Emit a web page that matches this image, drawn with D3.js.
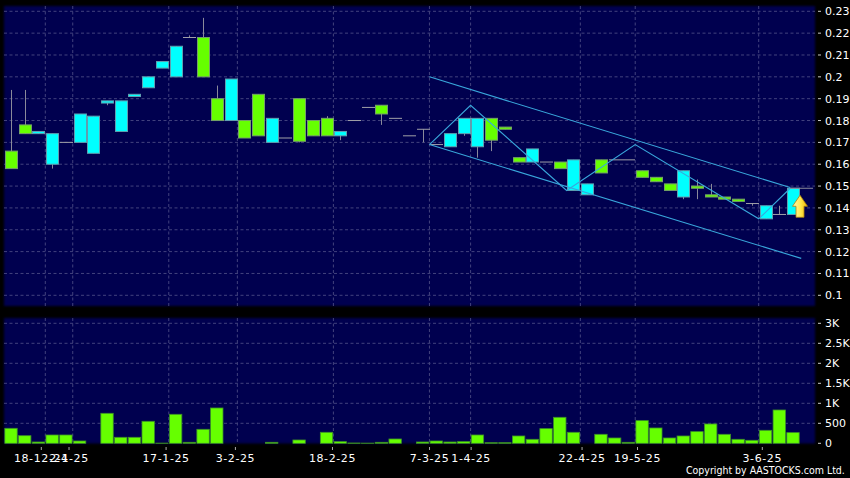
<!DOCTYPE html>
<html><head><meta charset="utf-8">
<script src="https://cdnjs.cloudflare.com/ajax/libs/d3/7.8.5/d3.min.js"></script>
<style>html,body{margin:0;padding:0;background:#000;overflow:hidden}svg{display:block}text{font-family:"DejaVu Sans",sans-serif;fill:#fff}</style>
</head><body><svg id="c" width="850" height="478"></svg>
<script>
const openP = [.158,.174,.175,.174,.170,.183,.182,.189,.189,.192,.200,.207,.214,.218,.200,.180,.199,.172,.173,.181,.172,.1705,.173,.173,.175,.180,.186,.183,.181,.173,.176,.169,.174,.181,.181,.171,.176,.161,.167,.161,.158,.162,.151,.156,.162,.162,.154,.152,.148,.157,.149,.145,.144,.143,.142,.141,.137,.149];
const closeP= [.166,.178,.174,.160,.170,.170,.165,.188,.175,.191,.195,.204,.200,.218,.218,.190,.180,.180,.192,.170,.172,.190,.180,.181,.173,.180,.186,.187,.181,.173,.176,.169,.168,.174,.168,.181,.177,.163,.161,.161,.161,.148,.146,.162,.162,.162,.157,.154,.151,.145,.150,.146,.145,.144,.142,.135,.137,.137];
const highP = [.194,.194,.175,.174,.170,.183,.182,.189,.189,.192,.200,.207,.214,.219,.227,.196,.199,.180,.192,.181,.172,.190,.180,.182,.175,.180,.186,.187,.181,.173,.176,.169,.174,.181,.181,.181,.177,.163,.167,.161,.161,.162,.151,.162,.162,.162,.157,.154,.151,.157,.153,.151,.145,.144,.142,.141,.141,.149];
const lowP  = [.158,.174,.174,.158,.170,.170,.165,.187,.175,.191,.195,.204,.200,.218,.200,.180,.180,.172,.173,.170,.172,.170,.173,.173,.171,.180,.186,.178,.181,.173,.170,.169,.168,.173,.163,.166,.176,.161,.161,.161,.158,.148,.146,.156,.162,.162,.154,.152,.148,.144,.144,.145,.144,.143,.141,.135,.137,.137];
const volume= [375,190,33,208,208,58,0,750,150,150,550,5,725,25,350,883,0,0,0,25,0,83,0,275,42,8,5,25,108,0,33,58,33,42,208,15,15,183,100,367,650,275,0,225,133,25,567,383,133,183,292,483,225,100,75,325,833,267];
const priceTicks = [.23,.22,.21,.2,.19,.18,.17,.16,.15,.14,.13,.12,.11,.1];
const volTicks = [0,500,1000,1500,2000,2500,3000];
const volTickLabels = ["0","500","1K","1.5K","2K","2.5K","3K"];
const gridIdx = [2.5,4.5,11.5,16.5,23.5,30.5,33.5,41.5,45.5,54.5];
const dateLabels = ["18-12-24","2-1-25","17-1-25","3-2-25","18-2-25","7-3-25","1-4-25","22-4-25","19-5-25","3-6-25"];
const channelUpper = [[30.5,.2],[56.8,.1493]];
const channelLower = [[30.5,.169],[57.6,.1169]];
const zigzag = [[30.5,.169],[33.5,.187],[40.5,.148],[45.5,.169],[54.5,.135],[56.8,.149]];

const svg = d3.select("#c");
const x = d3.scaleLinear().domain([0,57]).range([11,793]);
const xTick = d3.scaleLinear().domain([2.5,54.5]).range([41.3,762.3]);
const y = d3.scaleLinear().domain([.1,.23]).range([295.3,11.3]);
const yv = d3.scaleLinear().domain([0,3000]).range([443.3,323.3]);
const bg="#000050", gridC="#42427e", gs="3,2.5";
const L=4,R=815;

const defs=svg.append("defs");
const blur=defs.append("filter").attr("id","soft").attr("x","-5%").attr("y","-5%").attr("width","110%").attr("height","110%");
blur.append("feGaussianBlur").attr("stdDeviation",0.8);
const ag=defs.append("linearGradient").attr("id","arrow").attr("x1",0).attr("x2",1).attr("y1",0).attr("y2",0);
ag.append("stop").attr("offset",0).attr("stop-color","#fff6b0");
ag.append("stop").attr("offset",.55).attr("stop-color","#ffe84a");
ag.append("stop").attr("offset",1).attr("stop-color","#efb400");

svg.append("rect").attr("x",L).attr("y",6).attr("width",R-L).attr("height",300).attr("fill",bg).attr("filter","url(#soft)");
svg.append("rect").attr("x",L).attr("y",318).attr("width",R-L).attr("height",125.5).attr("fill",bg).attr("filter","url(#soft)");

const grid=svg.append("g").attr("stroke",gridC).attr("stroke-dasharray",gs).attr("stroke-width",1);
priceTicks.forEach(t=>grid.append("line").attr("x1",L).attr("x2",R).attr("y1",y(t)).attr("y2",y(t)));
volTicks.slice(1).forEach(t=>grid.append("line").attr("x1",L).attr("x2",R).attr("y1",yv(t)).attr("y2",yv(t)));
gridIdx.forEach(g=>{
 grid.append("line").attr("x1",x(g)).attr("x2",x(g)).attr("y1",6).attr("y2",306);
 grid.append("line").attr("x1",x(g)).attr("x2",x(g)).attr("y1",318).attr("y2",443);
});

// candles
const cg=svg.append("g");
d3.range(openP.length).forEach(i=>{
 const o=openP[i],c=closeP[i],h=highP[i],l=lowP[i],cx=Math.round(x(i))+.5;
 if(h>l) cg.append("line").attr("x1",cx).attr("x2",cx).attr("y1",y(h)).attr("y2",y(l)).attr("stroke","#8a8a9a").attr("stroke-width",1);
 if(o===c){
  cg.append("line").attr("x1",cx-6.5).attr("x2",cx+6.5).attr("y1",y(o)).attr("y2",y(o)).attr("stroke","#a0a0a8").attr("stroke-width",1);
 } else {
  const green=c>o, t=y(Math.max(o,c)), b=y(Math.min(o,c));
  cg.append("rect").attr("x",cx-6).attr("width",12).attr("y",t).attr("height",b-t)
    .attr("fill",green?"#66ff00":"#00ffff").attr("stroke",green?"#74a068":"#5f9fb0").attr("stroke-width",1);
 }
});
// overlays
const line=d3.line().x(d=>x(d[0])).y(d=>y(d[1]));
[channelUpper,channelLower,zigzag].forEach(p=>svg.append("path").attr("d",line(p)).attr("fill","none").attr("stroke","#39a8dc").attr("stroke-width",1.1));
svg.append("line").attr("x1",x(56.8)).attr("x2",813).attr("y1",y(.149)).attr("y2",y(.149)).attr("stroke","#8a8a9a");
// arrow
svg.append("path").attr("transform",`translate(${x(57)+7},${y(.138)})`)
 .attr("d","M0,-17 L7.5,-6 L4,-6 L4,5 L-4,5 L-4,-6 L-7.5,-6 Z").attr("fill","url(#arrow)").attr("stroke","#a97f10").attr("stroke-width",.8);
// volume
svg.append("g").selectAll("rect").data(volume).join("rect")
 .attr("x",(d,i)=>x(i)-6.2).attr("width",12.4).attr("y",d=>yv(d)).attr("height",d=>yv(0)-yv(d))
 .attr("fill","#66ff00").attr("stroke","#3d8f2a").attr("stroke-width",.8).attr("display",d=>d>0?null:"none");

// axes
const axisP=svg.append("g");
priceTicks.forEach(t=>{
 axisP.append("line").attr("x1",818).attr("x2",821).attr("y1",y(t)).attr("y2",y(t)).attr("stroke","#ccc");
 axisP.append("text").attr("x",825).attr("y",y(t)+4).attr("font-size",11).text(t);
});
volTicks.forEach((t,i)=>{
 axisP.append("line").attr("x1",818).attr("x2",821).attr("y1",yv(t)).attr("y2",yv(t)).attr("stroke","#ccc");
 axisP.append("text").attr("x",825).attr("y",yv(t)+4).attr("font-size",11).text(volTickLabels[i]);
});
gridIdx.forEach((g,i)=>{
 const tx=xTick(g);
 axisP.append("line").attr("x1",tx).attr("x2",tx).attr("y1",447).attr("y2",450).attr("stroke","#aaa");
 axisP.append("text").attr("x",tx).attr("y",462).attr("text-anchor","middle").attr("font-size",11).attr("letter-spacing",.6).text(dateLabels[i]);
});
svg.append("text").attr("transform","translate(686,474) scale(.9,1)").attr("font-size",10.5).text("Copyright by AASTOCKS.com Ltd.");
</script></body></html>
